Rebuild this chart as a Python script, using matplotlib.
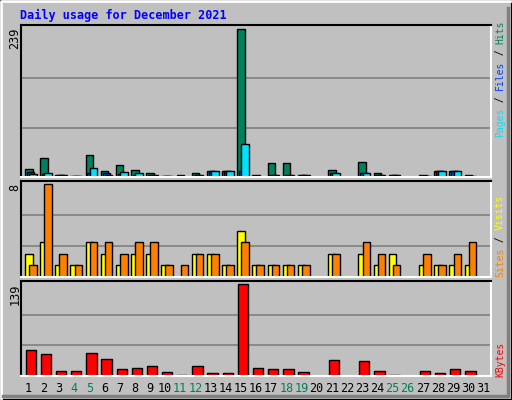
import matplotlib
matplotlib.use("Agg")
import matplotlib.pyplot as plt
from matplotlib.patches import Rectangle
from matplotlib.lines import Line2D
import numpy as np

days = list(range(1, 32))
weekend_days = [4, 5, 11, 12, 18, 19, 25, 26]

hits = [13, 30, 4, 1, 36, 10, 20, 12, 7, 1, 4, 7, 9, 9, 239, 4,
        22, 22, 4, 0, 12, 0, 24, 7, 4, 0, 4, 9, 9, 4, 0]
files = [8, 5, 3, 1, 7, 7, 5, 4, 4, 1, 0, 4, 9, 9, 10, 0,
         4, 4, 4, 0, 7, 0, 7, 4, 4, 0, 1, 9, 9, 1, 0]
pages = [5, 7, 4, 1, 14, 4, 8, 7, 4, 1, 0, 4, 9, 9, 54, 0,
         4, 4, 4, 0, 7, 0, 7, 4, 4, 0, 1, 9, 9, 1, 0]
visits = [2, 3, 1, 1, 3, 2, 1, 2, 2, 1, 0, 2, 2, 1, 4, 1,
          1, 1, 1, 0, 2, 0, 2, 1, 2, 0, 1, 1, 1, 1, 0]
sites = [1, 8, 2, 1, 3, 3, 2, 3, 3, 1, 1, 2, 2, 1, 3, 1,
         1, 1, 1, 0, 2, 0, 3, 2, 1, 0, 2, 1, 2, 3, 0]
kbytes = [40, 34, 8, 7, 35, 26, 11, 12, 15, 6, 1, 15, 5, 5, 139, 12,
          11, 11, 6, 0, 25, 0, 22, 8, 1, 0, 7, 5, 10, 8, 0]

BG = "#C0C0C0"
C_HITS, C_FILES, C_PAGES = "#00805C", "#0040FF", "#00E0FF"
C_VISITS, C_SITES, C_KB = "#FFFF00", "#FF8000", "#FF0000"
MONO = "DejaVu Sans Mono"

W, H = 512, 400
fig = plt.figure(figsize=(W / 100, H / 100), dpi=100, facecolor=BG)


def fx(x):
    return x / W


def fy(y):
    return 1 - y / H


# bevelled outer frame
fig.add_artist(Line2D([fx(1), fx(1), fx(510)], [fy(398), fy(1), fy(1)], color="white", lw=2))
fig.add_artist(Line2D([fx(3), fx(508), fx(508)], [fy(396), fy(396), fy(8)], color="#808080", lw=2.5))
fig.add_artist(Rectangle((0, 0), 1, 1, transform=fig.transFigure, fill=False, ec="black", lw=1.5))

fig.text(fx(20), fy(15), "Daily usage for December 2021", color="#0000FF",
         family=MONO, fontsize=8.5, fontweight="bold", va="center", ha="left")


def panel(top, bottom, max_px, vmax):
    ax = fig.add_axes([fx(21), fy(bottom), fx(491) - fx(21), fy(top) - fy(bottom)])
    ax.set_facecolor(BG)
    ax.set_xlim(0.5, 31.5)
    ax.set_ylim(0, vmax * (bottom - top) / max_px)
    for k in (1, 2):
        ax.axhline(vmax * k / 3, color="#808080", lw=1.2, zorder=0)
    ax.set_yticks([])
    ax.set_xticks([])
    ax.spines["left"].set_color("black")
    ax.spines["top"].set_color("black")
    ax.spines["right"].set_color("white")
    ax.spines["bottom"].set_color("white")
    for s in ax.spines.values():
        s.set_linewidth(1.5)
    fig.text(fx(15), fy(top + 3), str(vmax), rotation=90, family=MONO,
             fontsize=8.5, ha="center", va="top")
    return ax


x = np.array(days)
bw = 0.5
kw = dict(edgecolor="black", linewidth=1, align="edge", zorder=2)

ax1 = panel(25, 177, 148, max(hits))
ax1.bar(x - 0.24, hits, bw, color=C_HITS, **kw)
ax1.bar(x - 0.12, files, bw, color=C_FILES, **kw)
ax1.bar(x + 0.03, pages, bw, color=C_PAGES, **kw)

ax2 = panel(181, 277, 93, max(sites))
ax2.bar(x - 0.24, visits, bw, color=C_VISITS, **kw)
ax2.bar(x + 0.03, sites, bw, color=C_SITES, **kw)

ax3 = panel(281, 376, 91.7, max(kbytes))
ax3.bar(x - 0.2, kbytes, 0.68, color=C_KB, **kw)

for d in days:
    fig.text(fx(21 + (d - 0.5) * 470 / 31), fy(388), str(d), family=MONO, fontsize=8.5,
             ha="center", va="center", color=C_HITS if d in weekend_days else "black")

CHAR = 0.6 * 7 * 100 / 72  # px advance per char at 7pt mono


def side_label(parts, y_start):
    y = y_start
    for txt, col in parts:
        fig.text(fx(500), fy(y), txt, rotation=90, family=MONO, fontsize=7,
                 color=col, ha="center", va="bottom")
        y -= len(txt) * CHAR


side_label([("Pages", C_PAGES), (" / ", "black"), ("Files", C_FILES),
            (" / ", "black"), ("Hits", C_HITS)], 137)
side_label([("Sites", C_SITES), (" / ", "black"), ("Visits", C_VISITS)], 277)
side_label([("KBytes", C_KB)], 377)

fig.savefig("out.png", dpi=100, facecolor=BG)
